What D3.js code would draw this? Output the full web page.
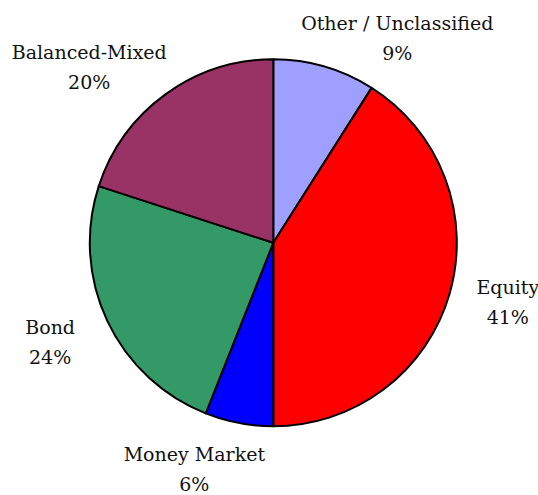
<!DOCTYPE html>
<html>
<head>
<meta charset="utf-8">
<script src="https://cdn.jsdelivr.net/npm/d3@7"></script>
<style>
  html, body { margin: 0; padding: 0; background: #fff; }
  svg { display: block; }
  .slice-label { font-family: "DejaVu Serif", "Liberation Serif", serif; font-size: 19px; fill: #111; }
</style>
</head>
<body>
<div id="chart"></div>
<script>
// Fund categories, clockwise from 12 o'clock
const categories = ["Other / Unclassified", "Equity", "Money Market", "Bond", "Balanced-Mixed"];
const shares = [9, 41, 6, 24, 20];
const percentLabels = ["9%", "41%", "6%", "24%", "20%"];

const colors = {
  "Other / Unclassified": "#9f9fff",
  "Equity": "#ff0000",
  "Money Market": "#0000ff",
  "Bond": "#339966",
  "Balanced-Mixed": "#993366"
};

// Small nudges so the label blocks sit where the original layout put them
const labelNudge = {
  "Other / Unclassified": [57, 26],
  "Equity": [4, -8],
  "Money Market": [-34, -10],
  "Bond": [-6, -3],
  "Balanced-Mixed": [-43, 18]
};

const width = 538, height = 495;
const cx = 273.3, cy = 242.8, radius = 183.5, labelRadius = 240;

const data = categories.map((c, i) => ({ category: c, value: shares[i], pct: percentLabels[i] }));

const svg = d3.select("#chart").append("svg")
  .attr("width", width)
  .attr("height", height);

const g = svg.append("g").attr("transform", `translate(${cx},${cy})`);

const pie = d3.pie().sort(null).value((d) => d.value);
const arc = d3.arc().innerRadius(0).outerRadius(radius);
const labelArc = d3.arc().innerRadius(labelRadius).outerRadius(labelRadius);

const arcs = pie(data);

g.selectAll("path.slice")
  .data(arcs)
  .join("path")
  .attr("class", "slice")
  .attr("d", arc)
  .attr("fill", (d) => colors[d.data.category])
  .attr("stroke", "#000")
  .attr("stroke-width", 2)
  .attr("stroke-linejoin", "round");

const labels = g.selectAll("text.slice-label")
  .data(arcs)
  .join("text")
  .attr("class", "slice-label")
  .attr("text-anchor", "middle")
  .attr("transform", (d) => {
    const [x, y] = labelArc.centroid(d);
    const [nx, ny] = labelNudge[d.data.category];
    return `translate(${x + nx},${y + ny})`;
  });

labels.append("tspan").attr("x", 0).attr("y", -8).text((d) => d.data.category);
labels.append("tspan").attr("x", 0).attr("y", 22).text((d) => d.data.pct);
</script>
</body>
</html>
